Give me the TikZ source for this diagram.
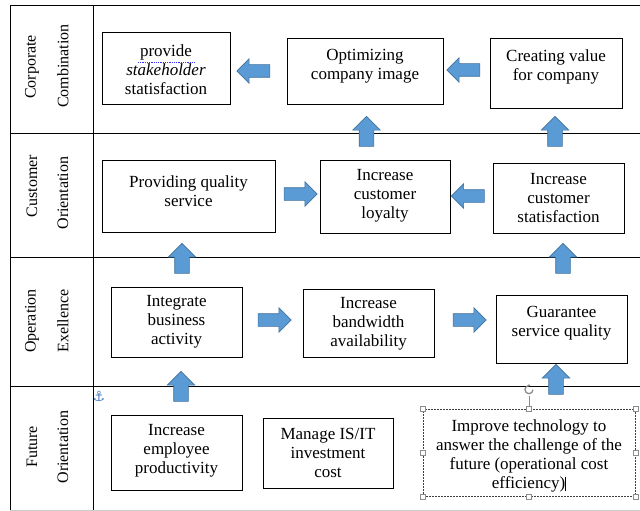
\documentclass[tikz,border=0pt]{standalone}
\usepackage{fontspec}
\setmainfont{Liberation Serif}
\newfontfamily\dejavu{DejaVu Sans}
\usetikzlibrary{shapes.arrows,calc,fit,arrows.meta}
\definecolor{arrowblue}{HTML}{5B9BD5}
\definecolor{arrowedge}{HTML}{41719C}
\definecolor{handlegray}{HTML}{8C8C8C}
\definecolor{anchorblue}{HTML}{4A7EBB}
\newcommand\diabox[7]{%
  \node[box, fit={(#2,#3) (#4,#5)}] (#1) {};
  \node[txt] (#1-t) at ($(#1.center)+(0,#6)$) {#7};}
\begin{document}
\begin{tikzpicture}[x=1pt,y=-1pt,
  box/.style={draw, line width=0.8pt, inner sep=0pt},
  selbox/.style={draw=black!75, line width=0.6pt, dash pattern=on 2pt off 1pt, inner sep=0pt},
  txt/.style={align=center, font=\fontsize{17}{19}\selectfont, inner sep=0pt},
  lab/.style={rotate=90, font=\fontsize{16}{18}\selectfont, inner sep=0pt},
  barrow/.style={single arrow, fill=arrowblue, draw=arrowedge, line width=0.6pt,
    inner sep=6pt, single arrow head extend=6pt,
    minimum width=24pt, minimum height=33pt},
  uparrow/.style={barrow, shape border rotate=90, inner sep=7pt,
    single arrow head extend=6.5pt, minimum width=27pt, minimum height=30pt},
  larrow/.style={barrow, shape border rotate=180},
  rarrow/.style={barrow, shape border rotate=0},
  gridline/.style={line width=0.8pt},
  handle/.style={draw=handlegray, fill=white, line width=0.4pt, minimum size=5pt, inner sep=0pt}]
\useasboundingbox (0,0) rectangle (640,511);

% table grid
\draw[gridline] (10,5) -- (640,5);
\draw[gridline] (10,133) -- (640,133);
\draw[gridline] (10,257) -- (640,257);
\draw[gridline] (10,386) -- (640,386);
\draw[gridline] (10,5) -- (10,510);
\draw[gridline] (93,5) -- (93,510);
\draw[gray!40, line width=0.8pt] (10,510) -- (640,510);

% row labels
\node[lab] (r1a) at (32,67) {Corporate};
\node[lab] (r1b) at (63,66) {Combination};
\node[lab] (r2a) at (32,186) {Customer};
\node[lab] (r2b) at (63,193) {Orientation};
\node[lab] (r3a) at (32,321) {Operation};
\node[lab] (r3b) at (63,321) {Exellence};
\node[lab] (r4a) at (32,447) {Future};
\node[lab] (r4b) at (63,447) {Orientation};

% boxes
\diabox{p1}{102}{32}{230}{104}{2}{provide\\\textit{stakeholder}\\statisfaction}
\diabox{o1}{287}{38}{443}{104}{-5}{Optimizing\\company image}
\diabox{c1}{490}{38}{622}{108}{-6}{Creating value\\for company}
\diabox{q2}{102}{160}{275}{232}{-5}{Providing quality\\service}
\diabox{l2}{320}{160}{450}{233}{-1}{Increase\\customer\\loyalty}
\diabox{s2}{493}{163}{624}{233}{0}{Increase\\customer\\statisfaction}
\diabox{i3}{111}{287}{242}{357}{0}{Integrate\\business\\activity}
\diabox{b3}{303}{289}{434}{357}{1}{Increase\\bandwidth\\availability}
\diabox{g3}{496}{295}{627}{363}{-6}{Guarantee\\service quality}
\diabox{e4}{111}{415}{242}{490}{-2}{Increase\\employee\\productivity}
\diabox{m4}{263}{418}{393}{488}{0}{Manage IS/IT\\investment\\cost}
\node[selbox, fit={(423,409) (635,496)}] (t4) {};
\node[txt] (t4-t) at ($(t4.center)+(0,3)$) {Improve technology to\\answer the challenge of the\\future (operational cost\\efficiency)\rule[-3pt]{0.9pt}{14pt}};

% spell-check underline
\draw[blue!80, densely dotted, line width=0.8pt] ($(p1.north)+(-28,31)$) -- ++(56,0);

% block arrows
\node[larrow] (a1) at (256.5,71) {};
\node[larrow] (a2) at (466.5,70) {};
\node[uparrow] (u1) at (366.5,135) {};
\node[uparrow] (u2) at (555,135) {};
\node[rarrow] (a3) at (297.5,194) {};
\node[larrow] (a4) at (471,196) {};
\node[uparrow] (u3) at (182,262) {};
\node[uparrow] (u4) at (563,262) {};
\node[rarrow] (a5) at (271.5,320) {};
\node[rarrow] (a6) at (466.5,320) {};
\node[uparrow] (u5) at (181,390) {};
\node[uparrow] (u6) at (556,383) {};

% selection handles of the text box
\draw[handlegray, line width=0.5pt] (t4.north) -- ++(0,-13) coordinate (rh);
\draw[handlegray, line width=1.3pt, -{Stealth[length=2.5pt,width=3pt]}] ($(rh)+(4,-6)$) arc[start angle=0, end angle=-290, radius=4pt];
\foreach \a in {north west,north,north east,east,south east,south,south west,west}
  \node[handle] (h-\a) at (t4.\a) {};

% anchor mark
\node[text=anchorblue, font=\dejavu\fontsize{14}{14}\selectfont, inner sep=0pt] (anc) at (99,396) {⚓};
\end{tikzpicture}
\end{document}
